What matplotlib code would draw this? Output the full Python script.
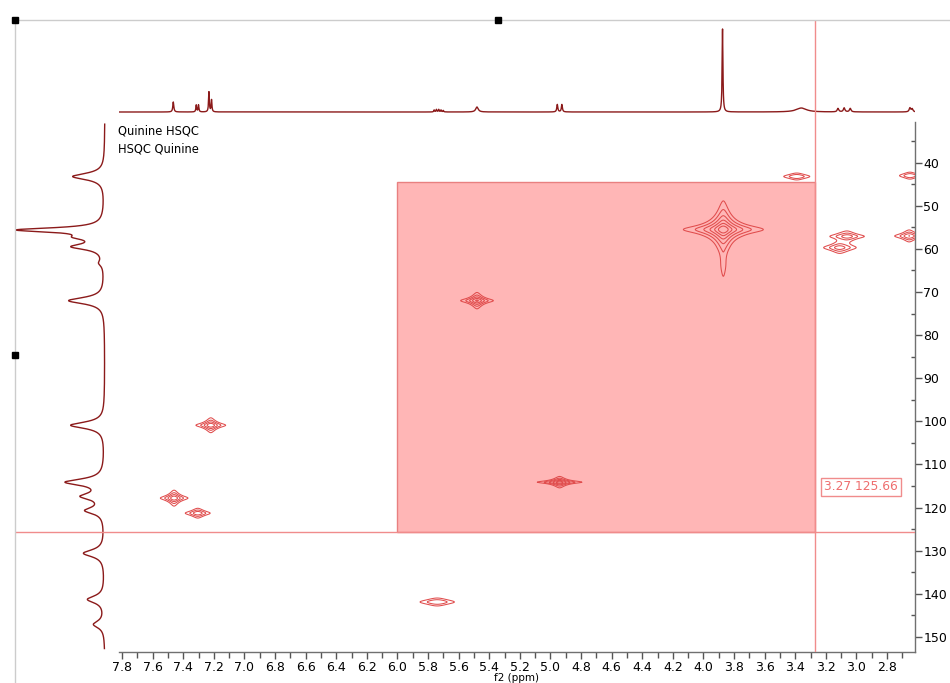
import numpy as np
import matplotlib
matplotlib.use("Agg")
import matplotlib.pyplot as plt
from matplotlib.patches import Rectangle
from matplotlib.lines import Line2D
from matplotlib.ticker import MultipleLocator, FormatStrFormatter

# ---------------- data ----------------
# 2D cross peaks (HSQC): f2 (1H ppm), f1 (13C ppm), relative intensity, half widths
peak_f2 = [7.46, 7.305, 7.22, 5.74, 5.48, 4.94, 3.87, 3.87, 3.39, 3.06, 3.11, 2.65, 2.655]
peak_f1 = [117.8, 121.3, 100.9, 141.9, 72.0, 114.1, 55.5, 64.0, 43.2, 57.1, 59.7, 43.0, 57.0]
peak_int = [15, 7, 15, 4, 18, 25, 60, 1.2, 4, 6, 6, 4, 8]
peak_wf2 = [0.024, 0.033, 0.026, 0.065, 0.026, 0.030, 0.034, 0.014, 0.049, 0.046, 0.046, 0.039, 0.033]
peak_wf1 = [0.49, 0.46, 0.46, 0.53, 0.46, 0.27, 0.85, 2.5, 0.46, 0.51, 0.58, 0.46, 0.51]
contour_levels = [1, 2, 4, 8, 16, 32]

# 1D proton projection (top): position ppm, height, half width
h1_pos = [7.465, 7.315, 7.300, 7.232, 7.215, 5.76, 5.745, 5.73, 5.715, 5.70,
          5.48, 4.955, 4.925, 3.875, 3.36, 3.12, 3.08, 3.04, 2.65, 2.635]
h1_height = [10, 7, 7, 20, 12, 2, 2.5, 2.5, 2, 1.5,
             5, 7.5, 7.5, 83, 4, 3.5, 4, 3.5, 4, 3]
h1_width = [0.004, 0.003, 0.003, 0.003, 0.003, 0.003, 0.003, 0.003, 0.003, 0.003,
            0.010, 0.004, 0.004, 0.003, 0.040, 0.006, 0.006, 0.006, 0.006, 0.006]

# 1D carbon projection (left): position ppm, depth, half width
c13_pos = [43.2, 55.6, 57.3, 59.5, 63.3, 72.0, 100.9, 114.1, 117.4, 120.7, 130.6, 141.3, 147.1]
c13_height = [32, 85, 20, 30, 4, 36, 34, 38, 21, 18, 21, 17, 11]
c13_width = [0.9, 0.6, 0.7, 0.8, 0.8, 0.9, 0.9, 0.9, 0.9, 0.9, 1.0, 1.0, 1.0]

cursor_f2 = 3.27
cursor_f1 = 125.66
region_f2 = [6.0, 3.27]
region_f1 = [44.4, 125.66]
f2_lim = [7.82, 2.617]
f1_lim = [30.56, 153.5]
title_lines = ["Quinine HSQC", "HSQC Quinine"]

# ---------------- figure ----------------
W, H = 950, 683
fig = plt.figure(figsize=(W / 100, H / 100), dpi=100)
fig.patch.set_facecolor("white")
plt.rcParams["font.family"] = ["DejaVu Sans"]


def fr(x0, y0, x1, y1):
    return [x0 / W, 1 - y1 / H, (x1 - x0) / W, (y1 - y0) / H]


ax = fig.add_axes(fr(119, 122, 915, 652))
ax_top = fig.add_axes(fr(119, 20, 915, 122), sharex=ax)
ax_left = fig.add_axes(fr(15, 122, 119, 652), sharey=ax)

ax.set_xlim(*f2_lim)
ax.set_ylim(f1_lim[1], f1_lim[0])

line_red = "#8B1A1A"
cont_red = "#E04C4C"
cur_red = "#F08C8C"

# region rectangle
ax.add_patch(Rectangle((min(region_f2), region_f1[0]), abs(region_f2[0] - region_f2[1]),
                       region_f1[1] - region_f1[0], facecolor="#FFB6B6",
                       edgecolor="#E88080", lw=1, zorder=1))

# contours
xg = np.linspace(f2_lim[1], f2_lim[0], 2200)
yg = np.linspace(f1_lim[0], f1_lim[1], 1300)
Z = np.zeros((yg.size, xg.size))
for x0, y0, a, wx, wy in zip(peak_f2, peak_f1, peak_int, peak_wf2, peak_wf1):
    Z += a * np.outer(1 / (1 + ((yg - y0) / wy) ** 2), 1 / (1 + ((xg - x0) / wx) ** 2))
ax.contour(xg, yg, Z, levels=contour_levels, colors=cont_red, linewidths=0.75, zorder=3)

# crosshair
for a_ in (ax, ax_top):
    a_.axvline(cursor_f2, color=cur_red, lw=1, zorder=4)
for a_ in (ax, ax_left):
    a_.axhline(cursor_f1, color=cur_red, lw=1, zorder=4)
ax.annotate(f"{cursor_f2:.2f} {cursor_f1:.2f}", xy=(cursor_f2, cursor_f1),
            xytext=(9, 45), textcoords="offset pixels", ha="left", va="center",
            color="#EE6E6E", fontsize=8.8,
            bbox=dict(boxstyle="square,pad=0.22", fc="white", ec="#F08C8C", lw=1), zorder=5)

# title text
for i, t in enumerate(title_lines):
    ax.annotate(t, xy=(0, 1), xycoords="axes fraction", xytext=(-1, -3 - 18 * i),
                textcoords="offset pixels", ha="left", va="top", fontsize=8.3, color="black")

# axes styling
for s in ("top", "left"):
    ax.spines[s].set_visible(False)
for s in ("bottom", "right"):
    ax.spines[s].set_color("#707070")
    ax.spines[s].set_linewidth(1)
ax.yaxis.tick_right()
ax.yaxis.set_label_position("right")
ax.xaxis.set_major_locator(MultipleLocator(0.2))
ax.xaxis.set_minor_locator(MultipleLocator(0.1))
ax.xaxis.set_major_formatter(FormatStrFormatter("%.1f"))
ax.yaxis.set_major_locator(MultipleLocator(10))
ax.yaxis.set_minor_locator(MultipleLocator(5))
ax.yaxis.set_major_formatter(FormatStrFormatter("%d"))
ax.tick_params(axis="x", which="major", direction="out", length=5, width=1, color="#555555",
               labelsize=9, pad=1.5)
ax.tick_params(axis="x", which="minor", direction="out", length=4, width=1, color="#555555")
ax.tick_params(axis="y", which="major", direction="out", length=5, width=1, color="#555555",
               labelsize=9, pad=1, left=False, right=True)
ax.tick_params(axis="y", which="minor", direction="in", length=3, width=1, color="#555555",
               left=False, right=True)
ax.set_xlabel("f2 (ppm)", fontsize=7.5, labelpad=-1)
ax.set_facecolor("none")

# top 1D spectrum
xs = np.linspace(f2_lim[1], f2_lim[0], 8000)
spec = np.zeros_like(xs)
for p, h, w in zip(h1_pos, h1_height, h1_width):
    spec += h / (1 + ((xs - p) / w) ** 2)
ax_top.plot(xs, spec, color=line_red, lw=1)
ax_top.set_ylim(-10, 92)
ax_top.axis("off")

# left 1D spectrum
ys = np.linspace(f1_lim[0] + 0.5, f1_lim[1] - 0.8, 6000)
spec1 = np.zeros_like(ys)
for p, h, w in zip(c13_pos, c13_height, c13_width):
    spec1 += h / (1 + ((ys - p) / w) ** 2)
ax_left.plot(spec1, ys, color=line_red, lw=1)
ax_left.set_xlim(90, -14)
ax_left.axis("off")

# window frame decorations
fig.add_artist(Line2D([15 / W, 1], [1 - 20 / H] * 2, color="#CCCCCC", lw=1))
fig.add_artist(Line2D([15 / W] * 2, [0, 1 - 20 / H], color="#CCCCCC", lw=1))
for hx, hy in [(15, 20), (498, 20), (15, 355)]:
    fig.add_artist(Line2D([hx / W], [1 - hy / H], marker="s", ms=4.5, color="black", lw=0))

fig.savefig("out.png", dpi=100, facecolor="white")
